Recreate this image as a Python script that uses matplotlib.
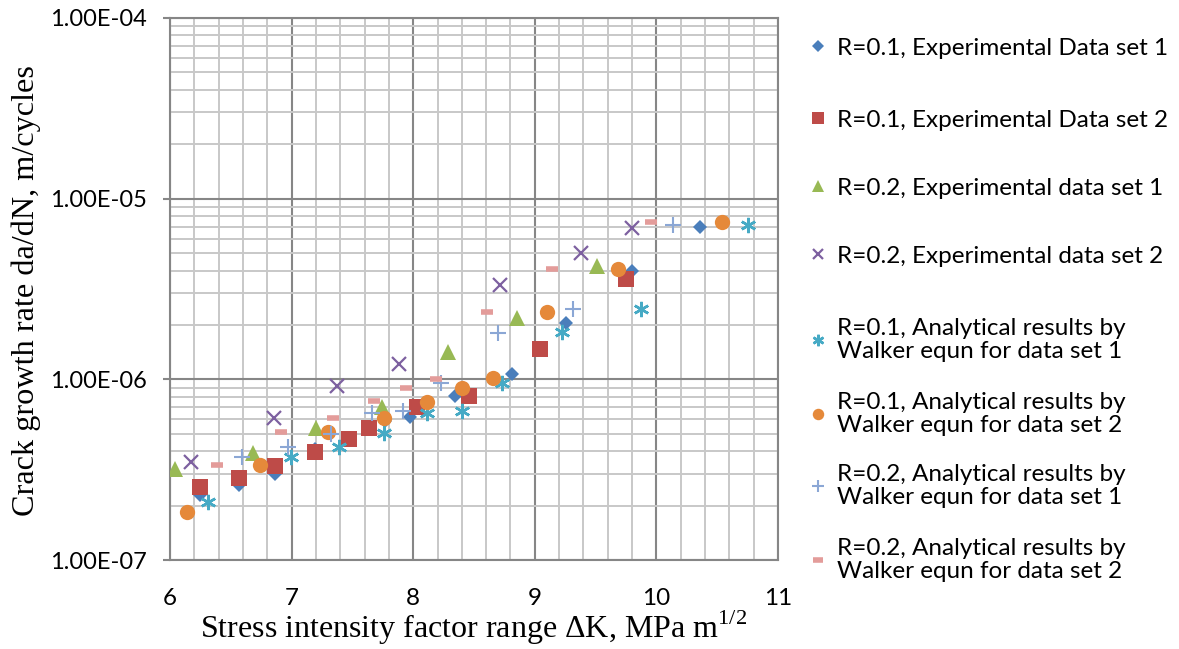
import matplotlib
matplotlib.use("Agg")
import matplotlib.pyplot as plt
from matplotlib.ticker import LogLocator, MultipleLocator, FixedFormatter, FixedLocator
from matplotlib.legend import Legend

plt.rcParams['mathtext.fontset'] = 'custom'
plt.rcParams['mathtext.rm'] = 'Liberation Serif'

# R=0.1, experimental data set 1
dk_exp1_r1 = [6.25, 6.57, 6.86, 7.19, 7.77, 7.97, 8.34, 8.81, 9.26, 9.80, 10.36]
da_exp1_r1 = [2.29e-7, 2.61e-7, 3.0e-7, 4.1e-7, 5.9e-7, 6.2e-7, 8.1e-7, 1.07e-6, 2.04e-6, 3.98e-6, 6.97e-6]
# R=0.1, experimental data set 2
dk_exp2_r1 = [6.25, 6.57, 6.86, 7.19, 7.47, 7.64, 8.03, 8.46, 9.04, 9.75]
da_exp2_r1 = [2.54e-7, 2.84e-7, 3.31e-7, 3.98e-7, 4.66e-7, 5.37e-7, 7.0e-7, 8.1e-7, 1.47e-6, 3.6e-6]
# R=0.2, experimental data set 1
dk_exp1_r2 = [6.04, 6.68, 7.20, 7.74, 8.29, 8.85, 9.51]
da_exp1_r2 = [3.2e-7, 3.92e-7, 5.37e-7, 7.0e-7, 1.42e-6, 2.19e-6, 4.25e-6]
# R=0.2, experimental data set 2
dk_exp2_r2 = [6.17, 6.855, 7.37, 7.88, 8.71, 9.38, 9.80]
da_exp2_r2 = [3.49e-7, 6.1e-7, 9.2e-7, 1.22e-6, 3.33e-6, 5.0e-6, 6.9e-6]
# R=0.1, Walker, data set 1
dk_wk1_r1 = [6.31, 6.995, 7.39, 7.76, 8.11, 8.40, 8.73, 9.22, 9.87, 10.75]
da_wk1_r1 = [2.1e-7, 3.72e-7, 4.23e-7, 5.05e-7, 6.5e-7, 6.7e-7, 9.55e-7, 1.83e-6, 2.45e-6, 7.15e-6]
# R=0.1, Walker, data set 2
dk_wk2_r1 = [6.14, 6.74, 7.30, 7.76, 8.11, 8.40, 8.66, 9.10, 9.68, 10.54]
da_wk2_r1 = [1.85e-7, 3.36e-7, 5.13e-7, 6.1e-7, 7.5e-7, 8.9e-7, 1.02e-6, 2.36e-6, 4.08e-6, 7.4e-6]
# R=0.2, Walker, data set 1
dk_wk1_r2 = [6.59, 6.97, 7.32, 7.66, 7.92, 8.23, 8.70, 9.31, 10.14]
da_wk1_r2 = [3.71e-7, 4.23e-7, 5.0e-7, 6.5e-7, 6.7e-7, 9.55e-7, 1.81e-6, 2.45e-6, 7.15e-6]
# R=0.2, Walker, data set 2
dk_wk2_r2 = [6.39, 6.91, 7.34, 7.68, 7.94, 8.19, 8.61, 9.14, 9.955]
da_wk2_r2 = [3.36e-7, 5.13e-7, 6.1e-7, 7.6e-7, 8.9e-7, 1.0e-6, 2.36e-6, 4.08e-6, 7.4e-6]

labels = ["R=0.1, Experimental Data set 1",
          "R=0.1, Experimental Data set 2",
          "R=0.2, Experimental data set 1",
          "R=0.2, Experimental data set 2",
          "R=0.1, Analytical results by\nWalker equn for data set 1",
          "R=0.1, Analytical results by\nWalker equn for data set 2",
          "R=0.2, Analytical results by\nWalker equn for data set 1",
          "R=0.2, Analytical results by\nWalker equn for data set 2"]

fig = plt.figure(figsize=(11.79, 6.49), dpi=100)
ax = fig.add_axes([0.1442, 0.1371, 0.5157, 0.8352])

series = [
    (dk_exp1_r1, da_exp1_r1, dict(marker='D', color='#4A7EBB', ms=7.5, mew=0)),
    (dk_exp2_r1, da_exp2_r1, dict(marker='s', color='#BE4B48', ms=11, mew=0)),
    (dk_exp1_r2, da_exp1_r2, dict(marker='^', color='#98B954', ms=11, mew=0)),
    (dk_exp2_r2, da_exp2_r2, dict(marker='x', color='#7D60A0', ms=10, mew=1.6)),
    (dk_wk1_r1, da_wk1_r1, dict(marker=(6, 2, 0), color='#46AAC5', ms=11, mew=1.8)),
    (dk_wk2_r1, da_wk2_r1, dict(marker='o', color='#E5893A', ms=11, mew=0)),
    (dk_wk1_r2, da_wk1_r2, dict(marker='+', color='#8BA7D5', ms=11, mew=1.5)),
    (dk_wk2_r2, da_wk2_r2, dict(marker='_', color='#E39C9A', ms=9, mew=4)),
]

handles = []
for (xs, ys, st) in series:
    h, = ax.plot(xs, ys, linestyle='none', zorder=3, **st)
    handles.append(h)

ax.set_yscale('log')
ax.set_xlim(6, 11)
ax.set_ylim(1e-7, 1e-4)

ax.xaxis.set_major_locator(MultipleLocator(1))
ax.xaxis.set_minor_locator(MultipleLocator(0.2))
ax.yaxis.set_major_locator(FixedLocator([1e-7, 1e-6, 1e-5, 1e-4]))
ax.yaxis.set_major_formatter(FixedFormatter(["1.00E-07", "1.00E-06", "1.00E-05", "1.00E-04"]))
ax.yaxis.set_minor_locator(LogLocator(base=10, subs=range(2, 10)))
ax.yaxis.set_minor_formatter(FixedFormatter([]))

ax.grid(which='major', color='#868686', linewidth=1.5, zorder=1)
ax.grid(which='minor', color='#C8C8C8', linewidth=1.4, zorder=0)
ax.set_axisbelow(True)

for s in ax.spines.values():
    s.set_color('#868686')
    s.set_linewidth(1.5)

ax.tick_params(axis='x', which='both', length=0, pad=20, labelsize=17.5)
ax.tick_params(axis='y', which='major', length=5, width=1.5, color='#868686',
               direction='out', pad=12, labelsize=17)
ax.tick_params(axis='y', which='minor', length=0)
for t in ax.get_xticklabels() + ax.get_yticklabels():
    t.set_fontfamily('Lato')

ax.set_xlabel('Stress intensity factor range ΔK, MPa m$^{\\mathrm{1/2}}$',
              fontfamily='Liberation Serif', fontsize=23, labelpad=0)
ax.set_ylabel('Crack growth rate da/dN, m/cycles',
              fontfamily='Liberation Serif', fontsize=23.2)
ax.yaxis.set_label_coords(-0.212, 0.498)

# legend entries laid out one by one, like the original
centers = [48, 120, 188, 256, 340, 414, 486, 560]
for h, lab, yc in zip(handles, labels, centers):
    leg = Legend(fig, [h], [lab], loc='center left',
                 bbox_to_anchor=(808 / 1179, 1 - yc / 649),
                 bbox_transform=fig.transFigure, frameon=False,
                 handlelength=0.8, handletextpad=0.4, borderpad=0,
                 borderaxespad=0, markerscale=0.75,
                 prop={'family': 'Lato', 'size': 17.5})
    for t in leg.get_texts():
        t.set_linespacing(1.1)
    fig.add_artist(leg)

fig.savefig('out.png', dpi=100)
